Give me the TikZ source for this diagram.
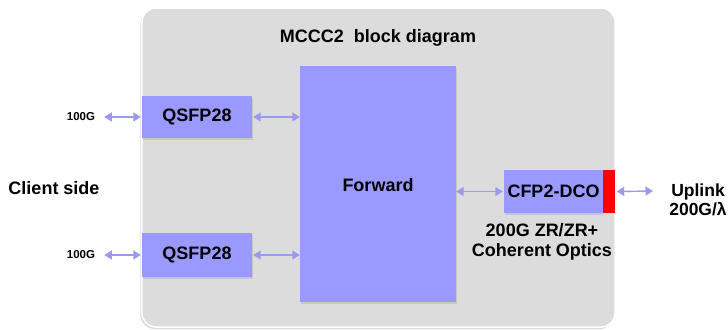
\documentclass[tikz,border=0pt]{standalone}
\usepackage{fontspec}
\setmainfont{Liberation Sans}
\usetikzlibrary{arrows.meta,shadows}
\definecolor{boxblue}{HTML}{9999FF}
\definecolor{panelgray}{HTML}{DCDCDC}
\definecolor{arrowblue}{HTML}{9A9AF0}
\definecolor{redbar}{HTML}{FF0000}
\begin{document}
\begin{tikzpicture}[x=1bp,y=-1bp,
  lbl/.style={font=\bfseries\fontsize{18bp}{21bp}\selectfont, text=black, inner sep=0},
  smalllbl/.style={font=\bfseries\fontsize{11.5bp}{13bp}\selectfont, text=black, inner sep=0},
  blk/.style={fill=boxblue, draw=none, inner sep=0, font=\bfseries\fontsize{18bp}{21bp}\selectfont,
    drop shadow={opacity=0.22, shadow xshift=1bp, shadow yshift=-1.5bp}},
  panel/.style={fill=panelgray, draw=white, line width=1.5bp, rounded corners=14bp,
    drop shadow={opacity=0.3, shadow xshift=-1.5bp, shadow yshift=-2bp}},
  link/.style={draw=arrowblue, line width=1.4bp,
    {Triangle[length=7.5bp,width=9bp]}-{Triangle[length=7.5bp,width=9bp]}}]
\useasboundingbox (0,0) rectangle (728,329);
% panel
\node[panel, minimum width=473bp, minimum height=319bp] (panel) at (378.5,167.5) {};
\node[lbl] (title) at (378,38) {MCCC2\ \ block diagram};
% blocks
\node[blk, minimum width=156bp, minimum height=236bp] (fwd) at (378,184) {};
\node[lbl] (fwdtxt) at (378,185) {Forward};
\node[blk, minimum width=110bp, minimum height=42bp] (q1) at (197,117) {QSFP28};
\node[blk, minimum width=110bp, minimum height=44bp] (q2) at (197,255) {QSFP28};
\node[blk, minimum width=99bp, minimum height=43bp] (cfp) at (553.5,191.5) {CFP2-DCO};
\node[fill=redbar, draw=none, inner sep=0, minimum width=12bp, minimum height=43bp] (red) at (609,191.5) {};
% labels
\node[smalllbl] (l1) at (81,117) {100G};
\node[smalllbl] (l2) at (81,255) {100G};
\node[lbl] (client) at (54,188) {Client side};
\node[lbl, align=center, font=\bfseries\fontsize{18bp}{20bp}\selectfont] (coh) at (542,242) {200G ZR/ZR+\\Coherent Optics};
\node[lbl, align=center, font=\bfseries\fontsize{17.5bp}{18.5bp}\selectfont] (upl) at (698,200) {Uplink\\200G/λ};
\coordinate (uplend) at (653,191);
% connectors
\draw[link, shorten <=9bp, shorten >=1bp] (l1.east) -- (q1.west);
\draw[link, shorten <=9bp, shorten >=1bp] (l2.east) -- (q2.west);
\draw[link, shorten <=1bp] (q1.east) -- (q1.east -| fwd.west);
\draw[link, shorten <=1bp] (q2.east) -- (q2.east -| fwd.west);
\draw[link, shorten >=1bp] (fwd.east |- cfp.west) -- (cfp.west);
\draw[link, shorten <=1.5bp] (red.east) -- (uplend);
\end{tikzpicture}
\end{document}
